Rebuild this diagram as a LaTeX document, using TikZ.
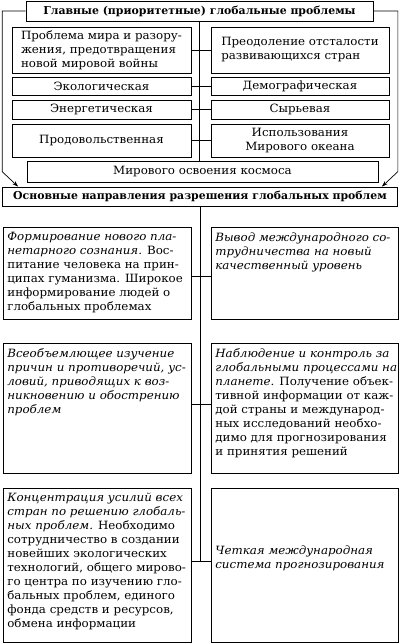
\documentclass[tikz,border=0pt]{standalone}
\usepackage{fontspec}
\setmainfont{DejaVu Serif}[FakeStretch=1.04]
\newfontfamily\headfont{DejaVu Serif}
\usetikzlibrary{arrows.meta}
\tikzset{
  frame/.style={draw, line width=0.7pt, inner sep=0pt, font=\fontsize{11.4}{14}\selectfont},
  cell/.style={frame, align=center},
  head/.style={frame, font=\headfont\fontsize{10.9}{14}\selectfont\bfseries},
  tall/.style={frame, anchor=north west, inner xsep=4pt, inner ysep=5pt},
  link/.style={line width=0.7pt},
  feed/.style={link, -{Stealth[length=6pt,width=4pt]}},
}
\newcommand{\topcell}[3]{\parbox[c][#2][t]{#1}{\parbox[t]{300pt}{\raggedright #3}}}
\begin{document}
\begin{tikzpicture}[x=1pt, y=-1pt]
  \useasboundingbox (0,0) rectangle (400,643);
  % главные проблемы
  \node[head, minimum width=347pt, minimum height=20pt] (main) at (199.5,11) {Главные (приоритетные) глобальные проблемы};
  \node[cell, align=left, minimum width=179pt, minimum height=46pt] (war) at (101.5,50) {Проблема мира и разору-\\жения, предотвращения\\новой мировой войны};
  \node[cell, align=left, minimum width=178pt, minimum height=46pt] (lag) at (300,50) {Преодоление отсталости\\развивающихся стран};
  \node[cell, minimum width=179pt, minimum height=18pt] (eco) at (101.5,86) {Экологическая};
  \node[cell, minimum width=178pt, minimum height=18pt] (demo) at (300,86) {Демографическая};
  \node[cell, minimum width=179pt, minimum height=19pt] (energy) at (101.5,109.5) {Энергетическая};
  \node[cell, minimum width=178pt, minimum height=19pt] (raw) at (300,109.5) {Сырьевая};
  \node[cell, minimum width=179pt, minimum height=33pt] (food) at (101.5,140.5) {Продовольственная};
  \node[cell, minimum width=178pt, minimum height=33pt] (ocean) at (300,140.5) {Использования\\Мирового океана};
  \node[cell, minimum width=351pt, minimum height=21pt] (space) at (202.5,171.5) {Мирового освоения космоса};
  \draw[link] (main.south) -- (main.south |- space.north);
  \draw[link] (war) -- (lag);
  \draw[link] (eco) -- (demo);
  \draw[link] (energy) -- (raw);
  \draw[link] (food) -- (ocean);
  % направления
  \node[head, minimum width=395pt, minimum height=19pt] (ways) at (200,196.5) {Основные направления разрешения глобальных проблем};
  \draw[feed] (main.west) -- (main.west -| ways.west) -- ([yshift=15pt]ways.north west) -- ([xshift=16pt]ways.north west);
  \draw[feed] (main.east) -- (main.east -| ways.east) -- ([yshift=15pt]ways.north east) -- ([xshift=-16pt]ways.north east);
  \node[tall] (mind) at (3,227) {\topcell{180pt}{82pt}{\itshape Формирование нового пла-\\нетарного сознания.\upshape{} Вос-\\питание человека на прин-\\ципах гуманизма. Широкое\\информирование людей о\\глобальных проблемах}};
  \node[tall] (level) at (211,227) {\topcell{179pt}{82pt}{\itshape Вывод международного со-\\трудничества на новый\\качественный уровень}};
  \node[tall] (study) at (3,343) {\topcell{180pt}{120pt}{\itshape Всеобъемлющее изучение\\причин и противоречий, ус-\\ловий, приводящих к воз-\\никновению и обострению\\проблем}};
  \node[tall] (watch) at (211,343) {\topcell{179pt}{120pt}{\itshape Наблюдение и контроль за\\глобальными процессами на\\планете.\upshape{} Получение объек-\\тивной информации от каж-\\дой страны и международ-\\ных исследований необхо-\\димо для прогнозирования\\и принятия решений}};
  \node[tall] (joint) at (3,488) {\topcell{180pt}{144pt}{\itshape Концентрация усилий всех\\стран по решению глобаль-\\ных проблем.\upshape{} Необходимо\\сотрудничество в создании\\новейших экологических\\технологий, общего мирово-\\го центра по изучению гло-\\бальных проблем, единого\\фонда средств и ресурсов,\\обмена информации}};
  \node[tall] (fore) at (211,488) {\topcell{179pt}{144pt}{\vspace*{52pt}\itshape Четкая международная\\система прогнозирования}};
  \coordinate (j1) at (200.5,276);
  \coordinate (j2) at (200.5,404);
  \coordinate (j3) at (200.5,561);
  \draw[link] (ways.south) -- (ways.south |- j3);
  \draw[link] (mind.east |- j1) -- (level.west |- j1);
  \draw[link] (study.east |- j2) -- (watch.west |- j2);
  \draw[link] (joint.east |- j3) -- (fore.west |- j3);
\end{tikzpicture}
\end{document}
